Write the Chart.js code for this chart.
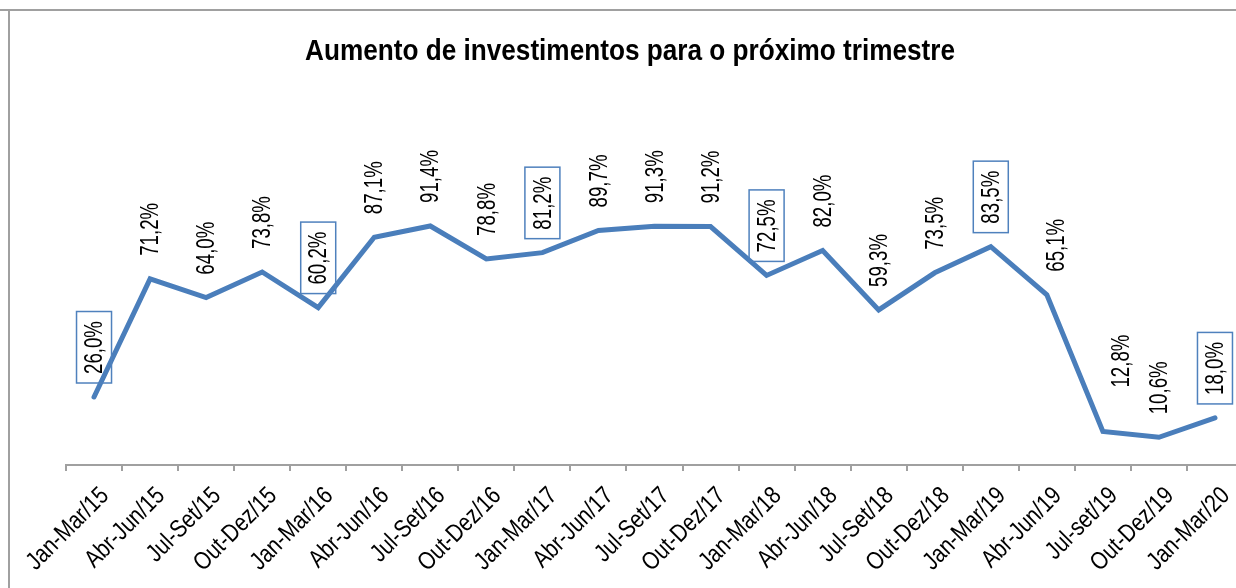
<!DOCTYPE html>
<html>
<head>
<meta charset="utf-8">
<script src="https://cdn.jsdelivr.net/npm/chart.js@4.4.1/dist/chart.umd.min.js"></script>
<style>
  html, body { margin: 0; padding: 0; background: #fff; overflow: hidden; }
  #wrap { position: relative; width: 1250px; height: 588px; }
</style>
</head>
<body>
<div id="wrap"><canvas id="c"></canvas></div>
<script>
const title = "Aumento de investimentos para o próximo trimestre";
const categories = ["Jan-Mar/15","Abr-Jun/15","Jul-Set/15","Out-Dez/15","Jan-Mar/16","Abr-Jun/16","Jul-Set/16","Out-Dez/16","Jan-Mar/17","Abr-Jun/17","Jul-Set/17","Out-Dez/17","Jan-Mar/18","Abr-Jun/18","Jul-Set/18","Out-Dez/18","Jan-Mar/19","Abr-Jun/19","Jul-set/19","Out-Dez/19","Jan-Mar/20"];
const values = [26.0, 71.2, 64.0, 73.8, 60.2, 87.1, 91.4, 78.8, 81.2, 89.7, 91.3, 91.2, 72.5, 82.0, 59.3, 73.5, 83.5, 65.1, 12.8, 10.6, 18.0];
const boxed = [true,false,false,false,true,false,false,false,true,false,false,false,true,false,false,false,true,false,false,false,true];

const FONT = "'Liberation Sans', Arial, sans-serif";
const fmt = v => v.toFixed(1).replace('.', ',') + '%';

function condensed(ctx, font, sample, target) {
  ctx.font = font;
  return target / ctx.measureText(sample).width;
}

const framePlugin = {
  id: 'frame',
  beforeDraw(chart) {
    const ctx = chart.ctx;
    ctx.save();
    ctx.strokeStyle = '#a0a0a0';
    ctx.lineWidth = 2;
    ctx.beginPath();
    ctx.moveTo(0, 10); ctx.lineTo(chart.width, 10);
    ctx.moveTo(9, 10); ctx.lineTo(9, chart.height);
    ctx.stroke();
    const f = "bold 29px " + FONT;
    const s = condensed(ctx, f, title, 650);
    ctx.fillStyle = '#000';
    ctx.textAlign = 'center';
    ctx.textBaseline = 'alphabetic';
    ctx.translate(630, 59.5);
    ctx.scale(s, 1);
    ctx.fillText(title, 0, 0);
    ctx.restore();
  }
};

const labelPlugin = {
  id: 'vlabels',
  afterDatasetsDraw(chart) {
    const ctx = chart.ctx;
    const meta = chart.getDatasetMeta(0);
    // manual label nudges (pixels) as in the original chart
    const nudge = { 17: [9, 0], 18: [18, -21] };
    ctx.save();
    const f = "26px " + FONT;
    const s = condensed(ctx, f, "71,2%", 53);
    ctx.font = f;
    meta.data.forEach((pt, i) => {
      const txt = fmt(values[i]);
      const w = ctx.measureText(txt).width * s;
      const n = nudge[i] || [0, 0];
      const x = pt.x + n[0], y0 = pt.y - 23 + n[1];
      if (boxed[i]) {
        ctx.strokeStyle = '#4f81bd';
        ctx.lineWidth = 1.5;
        ctx.strokeRect(x - 17.5, y0 - w - 9.5, 35, w + 18.5);
      }
      ctx.save();
      ctx.fillStyle = '#000';
      ctx.translate(x + 1, y0);
      ctx.rotate(-Math.PI / 2);
      ctx.scale(s, 1);
      ctx.textAlign = 'left';
      ctx.textBaseline = 'middle';
      ctx.fillText(txt, 0, 0);
      ctx.restore();
    });
    ctx.restore();
  }
};

const tickLabelPlugin = {
  id: 'ticklabels',
  afterDraw(chart) {
    const ctx = chart.ctx;
    const xs = chart.scales.x;
    ctx.save();
    const f = "25px " + FONT;
    const s = condensed(ctx, f, "Jan-Mar/15", 105);
    ctx.font = f;
    ctx.fillStyle = '#000';
    xs.ticks.forEach((t, i) => {
      const cx = xs.getPixelForTick(i);
      ctx.save();
      ctx.translate(cx + 11, xs.top + 27);
      ctx.rotate(-Math.PI / 4);
      ctx.scale(s, 1);
      ctx.textAlign = 'right';
      ctx.textBaseline = 'middle';
      ctx.fillText(xs.getLabelForValue(t.value), 0, 0);
      ctx.restore();
    });
    ctx.restore();
  }
};

new Chart(document.getElementById('c'), {
  type: 'line',
  data: {
    labels: categories,
    datasets: [{
      data: values,
      borderColor: '#4a7ebb',
      borderWidth: 5,
      borderCapStyle: 'round',
      borderJoinStyle: 'miter',
      pointRadius: 0,
      tension: 0,
      fill: false
    }]
  },
  options: {
    responsive: true,
    maintainAspectRatio: false,
    animation: false,
    layout: { padding: { left: 66, right: 7, top: 203.5, bottom: 0 } },
    plugins: { legend: { display: false }, tooltip: { enabled: false }, title: { display: false } },
    scales: {
      x: {
        offset: true,
        grid: { display: true, offset: true, drawOnChartArea: false, drawTicks: true, tickLength: 6, color: '#a0a0a0', lineWidth: 2 },
        border: { display: true, color: '#a0a0a0', width: 2 },
        ticks: { display: false, autoSkip: false },
        afterFit(scale) { scale.height = 123; scale.paddingLeft = 0; scale.paddingRight = 0; }
      },
      y: { display: false, min: 0, max: 100 }
    }
  },
  plugins: [framePlugin, labelPlugin, tickLabelPlugin]
});
</script>
</body>
</html>
